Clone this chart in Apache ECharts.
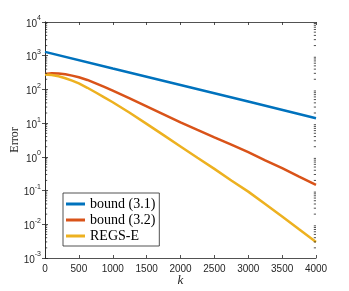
<!DOCTYPE html>
<html><head><meta charset="utf-8">
<script src="https://cdn.jsdelivr.net/npm/echarts@6/dist/echarts.min.js"></script>
<style>html,body{margin:0;padding:0;background:#fff}#c{width:349px;height:291px}</style>
</head><body><div id="c"></div>
<script>
const kBlue = [0, 1000, 2000, 3000, 4000];
const bound31 = [1300, 417, 135, 43.6, 14];
const kRed = [0,100,200,300,400,500,625,750,875,1000,1250,1500,1750,2000,2250,2500,2750,3000,3250,3500,3750,4000];
const bound32 = [288,301,299,282,257,229,191,151,119,92,54,31.6,18.2,10.5,6.3,3.8,2.3,1.38,0.79,0.46,0.26,0.148];
const kYel = [0,100,200,300,400,500,625,750,875,1000,1250,1500,1750,2000,2250,2500,2750,3000,3250,3500,3750,4000];
const regsE = [275,266,245,214,182,151,112,81,58,41.7,20.4,9.5,4.4,2.04,0.94,0.44,0.20,0.093,0.040,0.017,0.0071,0.0030];
const seriesNames = ['bound (3.1)', 'bound (3.2)', 'REGS-E'];
const minorVals = [];
for (let d = -3; d <= 3; d++) for (let m = 2; m <= 9; m++) minorVals.push(m * Math.pow(10, d));

const axisCol = '#262626';
function yFmt(v){ const e = Math.round(Math.log10(v)); return '{b|10}{s|' + e + '}'; }
const zip = (a,b) => a.map((x,i)=>[x,b[i]]);

const chart = echarts.init(document.getElementById('c'));
const commonX = {type:'value', min:0, max:4000, interval:500,
  axisLine:{show:true,lineStyle:{color:axisCol,width:0.8}},
  axisTick:{show:true,inside:true,length:3,lineStyle:{color:axisCol,width:0.8}},
  splitLine:{show:false}};
const commonY = {type:'log', logBase:10, min:0.001, max:10000,
  axisLine:{show:true,lineStyle:{color:axisCol,width:0.8}},
  axisTick:{show:true,inside:true,length:3,lineStyle:{color:axisCol,width:0.8}},
  splitLine:{show:false}};
chart.setOption({
  animation:false,
  grid:{left:45,right:33,top:22,bottom:33,containLabel:false,outerBoundsMode:'none'},
  xAxis:[
    Object.assign({}, commonX, {position:'bottom', name:'k', nameLocation:'middle', nameGap:16, nameMoveOverlap:false,
      nameTextStyle:{fontFamily:'Liberation Serif',fontStyle:'italic',fontSize:13,color:axisCol},
      axisLabel:{color:axisCol,fontFamily:'Liberation Sans',fontSize:10,margin:6,formatter:v=>String(v)}}),
    Object.assign({}, commonX, {position:'top', axisLabel:{show:false}})
  ],
  yAxis:[
    Object.assign({}, commonY, {position:'left', name:'Error', nameLocation:'middle', nameGap:24, nameMoveOverlap:false,
      nameTextStyle:{fontFamily:'Liberation Serif',fontSize:12,color:axisCol},
      axisLabel:{formatter:yFmt, margin:4, rich:{
        b:{fontFamily:'Liberation Sans',fontSize:10,color:axisCol,padding:[4,0,0,0]},
        s:{fontFamily:'Liberation Sans',fontSize:7,color:axisCol,verticalAlign:'top',padding:[0,0,4,0]}}}}),
    Object.assign({}, commonY, {position:'right', axisLabel:{show:false}})
  ],
  legend:{orient:'vertical', left:63, top:193, data:seriesNames,
    itemWidth:19, itemHeight:3, itemGap:2, icon:'rect', itemTextGap:2,
    padding:[4,4,3,3], borderColor:axisCol, borderWidth:0.8, backgroundColor:'#fff',
    textStyle:{fontFamily:'Liberation Serif',fontSize:14,color:'#000'}},
  series:[
    {name:seriesNames[0], type:'line', data:zip(kBlue,bound31), showSymbol:false, symbol:'none',
      lineStyle:{width:2.5,color:'#0072BD'}, itemStyle:{color:'#0072BD'}},
    {name:seriesNames[1], type:'line', data:zip(kRed,bound32), showSymbol:false, symbol:'none',
      lineStyle:{width:2.5,color:'#D95319'}, itemStyle:{color:'#D95319'}},
    {name:seriesNames[2], type:'line', data:zip(kYel,regsE), showSymbol:false, symbol:'none',
      lineStyle:{width:2.5,color:'#EDB120'}, itemStyle:{color:'#EDB120'}},
    {type:'custom', silent:true, data:minorVals.map(v=>[0,v]), clip:false, z:5,
      renderItem:function(params, api){
        const v = api.value(1);
        const l = api.coord([0, v]); const r = api.coord([4000, v]);
        return {type:'group', children:[
          {type:'line', shape:{x1:l[0],y1:l[1],x2:l[0]+2.2,y2:l[1]}, style:{stroke:axisCol,lineWidth:0.8}},
          {type:'line', shape:{x1:r[0],y1:r[1],x2:r[0]-2.2,y2:r[1]}, style:{stroke:axisCol,lineWidth:0.8}}
        ]};
      }}
  ]
});
</script></body></html>
